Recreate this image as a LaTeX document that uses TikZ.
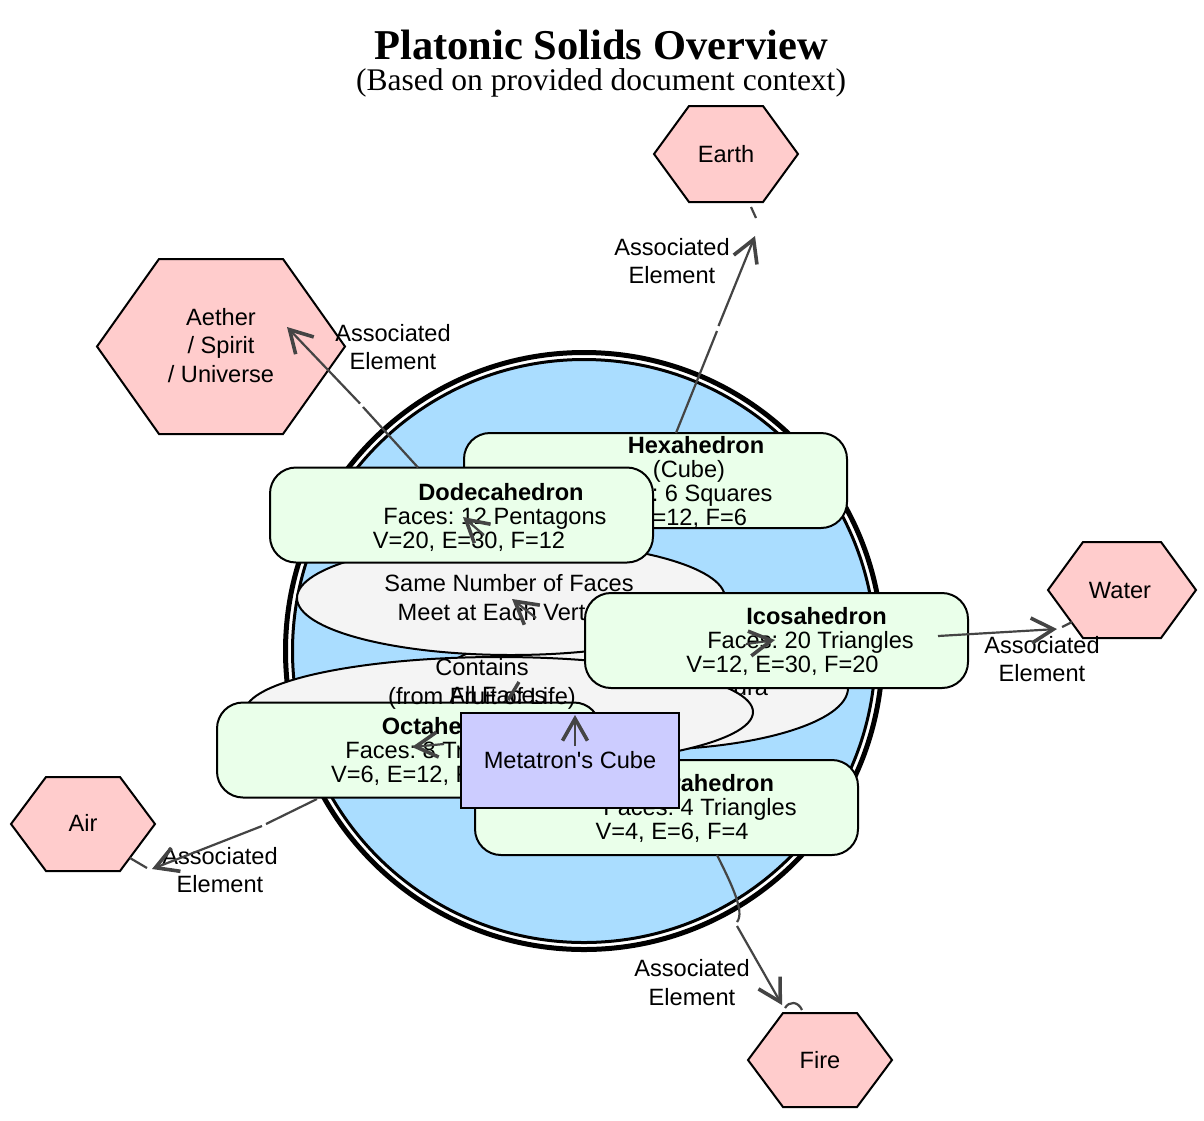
\documentclass[tikz,border=0pt]{standalone}
\usepackage{fontspec}
\setmainfont{Liberation Serif}
\newfontfamily\lsans{Liberation Sans}
\usetikzlibrary{arrows.meta,calc,shapes.geometric}
\definecolor{cgreen}{HTML}{EAFFEA}
\definecolor{cpink}{HTML}{FFCCCC}
\definecolor{cblue}{HTML}{AADDFF}
\definecolor{cgrey}{HTML}{F4F4F4}
\definecolor{cviolet}{HTML}{CCCCFF}
\definecolor{cline}{HTML}{444444}
\newcommand\bodyfont{\lsans\fontsize{23.6}{24}\selectfont\frenchspacing}
\newcommand\lblfont{\lsans\fontsize{23.6}{28.5}\selectfont\frenchspacing}
\newcommand\hexpath[5]{%
  \filldraw[hexfill] ({#1-#3},#2) -- ({#1-#3+#5},{#2-#4}) -- ({#1+#3-#5},{#2-#4}) -- ({#1+#3},#2) -- ({#1+#3-#5},{#2+#4}) -- ({#1-#3+#5},{#2+#4}) -- cycle;}
\begin{document}
\frenchspacing
\begin{tikzpicture}[x=1pt,y=-1pt,
  every node/.style={inner sep=0pt,outer sep=0pt},
  solidbox/.style={draw=black,line width=2pt,fill=cgreen,rounded corners=26pt,minimum width=383pt,minimum height=95pt},
  ellbox/.style={ellipse,draw=black,line width=2pt,fill=cgrey},
  hexfill/.style={draw=black,line width=2pt,fill=cpink,line join=miter},
  txt/.style={font=\bodyfont,anchor=base},
  lbl/.style={font=\lblfont,align=center},
  conn/.style={draw=cline,line width=2.2pt},
  arrowhd/.style={-{Straight Barb[length=22pt,width=25pt,line width=3.6pt]}},
]
\fill[white] (0,0) rectangle (1204,1120);
\useasboundingbox (0,0) rectangle (1204,1120);

% title
\node[font=\fontsize{42.5}{48}\selectfont\bfseries] (title) at (601,45) {Platonic Solids Overview};
\node[font=\fontsize{31.5}{36}\selectfont,anchor=base] (subtitle) at (601,90) {(Based on provided document context)};

% big double circle
\node[circle,draw=black,line width=5pt,fill=white,minimum size=597pt] (ring) at (584,651) {};
\node[circle,draw=black,line width=3pt,fill=cblue,minimum size=583pt] (core) at (584,651) {};

% ellipses
\node[ellbox,minimum width=416pt,minimum height=124pt] (e3) at (640,688) {};
\node[txt,anchor=base east] (e3t) at (768,695) {Polyhedra};
\node[ellbox,minimum width=508pt,minimum height=110pt] (e2) at (499,712) {};
\node[txt] (e2t) at (498,703.5) {All Faces};
\node[ellbox,minimum width=428pt,minimum height=114pt] (e1) at (511,598) {};
\node[txt] (e1a) at (509,591.5) {Same Number of Faces};
\node[txt] (e1b) at (504,620.5) {Meet at Each Vertex};

% solids
\node[solidbox] (hexa) at (655.5,480.5) {};
\node[txt] (hexa1) at (696,453) {\textbf{Hexahedron}};
\node[txt] (hexa2) at (689,477) {(Cube)};
\node[txt] (hexa3) at (680,501) {Faces: 6 Squares};
\node[txt] (hexa4) at (664,525) {V=8, E=12, F=6};

\node[solidbox] (dodec) at (461.5,515) {};
\node[txt] (dodec1) at (501,500) {\textbf{Dodecahedron}};
\node[txt] (dodec2) at (495,524) {Faces: 12 Pentagons};
\node[txt] (dodec3) at (469,548) {V=20, E=30, F=12};

\node[solidbox] (icosa) at (776.5,640.5) {};
\node[txt] (icosa1) at (816.5,624.5) {\textbf{Icosahedron}};
\node[txt] (icosa2) at (810.5,648.5) {Faces: 20 Triangles};
\node[txt] (icosa3) at (782.5,672.5) {V=12, E=30, F=20};

\node[solidbox] (octa) at (408.5,750) {};
\node[txt] (octa1) at (448,734.5) {\textbf{Octahedron}};
\node[txt] (octa2) at (442,758.5) {Faces: 8 Triangles};
\node[txt] (octa3) at (414,782.5) {V=6, E=12, F=8};

\node[solidbox] (tetra) at (666.5,807.5) {};
\node[txt] (tetra1) at (706,791.5) {\textbf{Tetrahedron}};
\node[txt] (tetra2) at (700,815.5) {Faces: 4 Triangles};
\node[txt] (tetra3) at (672,839.5) {V=4, E=6, F=4};

\node[draw=black,line width=2pt,fill=cviolet,minimum width=218pt,minimum height=95pt] (meta) at (570,760.5) {};
\node[txt] (metat) at (570,768.5) {Metatron\textquotesingle s Cube};

% element hexagons
\hexpath{726}{154}{72}{48}{35}
\node[font=\bodyfont] (earth) at (726,154) {Earth};
\hexpath{221}{346.5}{124}{87.5}{62}
\node[lbl] (aether) at (221,345.5) {Aether\\/ Spirit\\/ Universe};
\hexpath{1122}{590}{74}{48}{35}
\node[font=\bodyfont] (water) at (1120,590) {Water};
\hexpath{83}{824}{72}{47}{35}
\node[font=\bodyfont] (air) at (83,823) {Air};
\hexpath{820}{1060}{72}{47}{35}
\node[font=\bodyfont] (fire) at (820,1060) {Fire};

% edge labels
\node[lbl] (lEarth) at (672,261) {Associated\\Element};
\node[lbl] (lAether) at (393,347) {Associated\\Element};
\node[lbl] (lWater) at (1042,659) {Associated\\Element};
\node[lbl] (lAir) at (220,870) {Associated\\Element};
\node[lbl] (lFire) at (692,982.5) {Associated\\Element};
\node[lbl] (lMeta) at (482,684) {Contains\\(from Fruit of Life)};

% connector coordinates
\coordinate (eA) at (717,331);
\coordinate (eB) at (718.5,326);
\coordinate (eT) at (755,236);
\coordinate (eS1) at (756,218);
\coordinate (eS2) at (751,207);
\coordinate (aA) at (363,407);
\coordinate (aB) at (360,403.5);
\coordinate (aT) at (287,327);
\coordinate (wT) at (1057,629);
\coordinate (wS1) at (1062,627);
\coordinate (wS2) at (1072,622);
\coordinate (rA) at (266,824);
\coordinate (rB) at (262,826);
\coordinate (rT) at (152,869);
\coordinate (rS1) at (130,858);
\coordinate (rS2) at (147,868);
\coordinate (fA) at (737,922);
\coordinate (fB) at (737,926);
\coordinate (fT) at (782,1005);
\coordinate (fS1) at (785,1008);
\coordinate (fS2) at (802,1010);

% connectors
\draw[conn] ($(hexa.north)+(20.5,0)$) -- (eA);
\draw[conn,arrowhd] (eB) -- (eT);
\draw[conn] (eS1) -- (eS2);

\draw[conn] ($(dodec.north)+(-43.5,0)$) -- (aA);
\draw[conn,arrowhd] (aB) -- (aT);

\draw[conn,arrowhd] ($(icosa.east)+(-30,-4.5)$) -- (wT);
\draw[conn] (wS1) -- (wS2);

\draw[conn] ($(octa.south)+(-91.5,1.5)$) -- (rA);
\draw[conn,arrowhd] (rB) -- (rT);
\draw[conn] (rS1) -- (rS2);

\draw[conn] ($(tetra.south)+(50.5,0)$) .. controls (732,885) and (745,912) .. (fA);
\draw[conn,arrowhd] (fB) -- (fT);
\draw[conn] (fS1) .. controls (789,1001) and (798,1001) .. (fS2);

% central arrow heads
\coordinate (c1s) at (484,535); \coordinate (c1t) at (463,517);
\coordinate (c2s) at (536,618); \coordinate (c2t) at (512,599);
\coordinate (c3s) at (519,682); \coordinate (c3t) at (508,700);
\coordinate (c4s) at (575,746); \coordinate (c4t) at (575,715);
\coordinate (c5s) at (444,744); \coordinate (c5t) at (412,747);
\coordinate (c6s) at (746,644); \coordinate (c6t) at (775,640);
\draw[conn,arrowhd] (c1s) -- (c1t);
\draw[conn,arrowhd] (c2s) -- (c2t);
\draw[draw=cline,line width=3.4pt] (c3s) -- (c3t);
\draw[conn,arrowhd] (c4s) -- (c4t);
\draw[conn,arrowhd] (c5s) -- (c5t);
\draw[conn,arrowhd] (c6s) -- (c6t);
\end{tikzpicture}
\end{document}
